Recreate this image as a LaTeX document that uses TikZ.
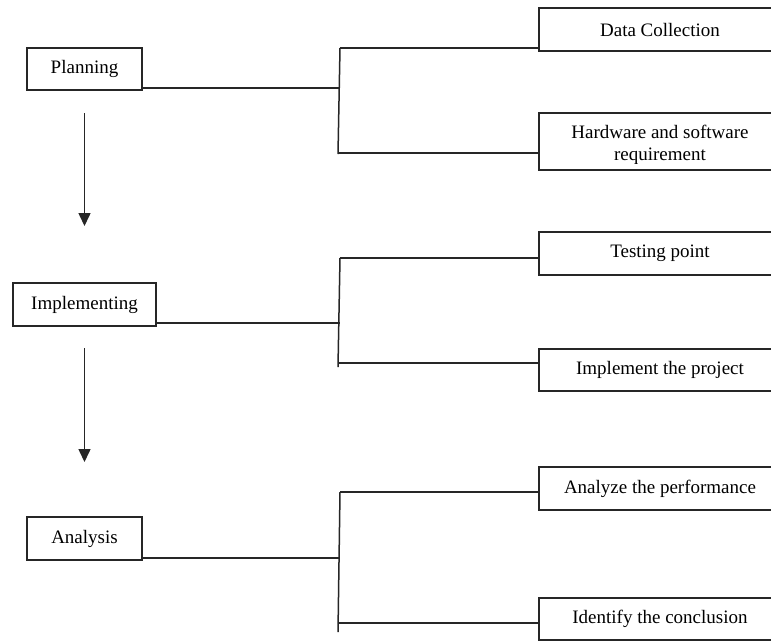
\documentclass[tikz,border=0pt]{standalone}
\usepackage{fontspec}
\setmainfont{Liberation Serif}
\usetikzlibrary{arrows.meta}
\tikzset{
  ln/.style={line width=1.5pt, draw=black!85},
  box/.style={ln, rectangle, inner sep=0pt, outer sep=0pt, align=center,
    font=\fontsize{19}{22}\selectfont},
  arr/.style={ln, -{Triangle[length=13pt,width=12pt]}}
}
\begin{document}
\begin{tikzpicture}[x=1pt,y=-1pt]
\useasboundingbox (0,0) rectangle (771,641);
\clip (0,0) rectangle (771,641);
\fill[white] (0,0) rectangle (771,641);
% left boxes
\node[box, minimum width=115pt, minimum height=42pt] (plan) at (84.5,69) {Planning};
\node[box, minimum width=143pt, minimum height=43pt] (impl) at (84.5,304.5) {Implementing};
\node[box, minimum width=115pt, minimum height=43pt] (anal) at (84.5,538.5) {Analysis};
% right boxes
\node[box, minimum width=242pt, minimum height=43pt] (dc) at (660,29.5) {Data Collection};
\node[box, minimum width=242pt, minimum height=57pt] (hw) at (660,141.5) {};
\begin{scope}
\clip (540,115) rectangle (780,163);
\node[font=\fontsize{19}{22}\selectfont, align=center, inner sep=0pt] (hwt) at (660,145) {Hardware and software\\requirement};
\end{scope}
\node[box, minimum width=242pt, minimum height=43pt] (tp) at (660,253.5) {Testing point};
\node[box, minimum width=242pt, minimum height=42pt] (ip) at (660,370) {Implement the project};
\node[box, minimum width=242pt, minimum height=43pt] (ap) at (660,488.5) {Analyze the performance};
\node[box, minimum width=242pt, minimum height=42pt] (ic) at (660,619) {Identify the conclusion};
% bus coordinates
\coordinate (b1t) at (340,48);  \coordinate (b1b) at (338,154);
\coordinate (b1l) at (339,153);
\coordinate (b2t) at (340,258); \coordinate (b2b) at (338,367);
\coordinate (b2l) at (339,363);
\coordinate (b3t) at (340,492); \coordinate (b3b) at (338,632);
\coordinate (b3l) at (339,623);
% planning tree
\draw[ln] ([yshift=2pt]plan.south east) -- ([yshift=2pt]plan.south east -| b1t);
\draw[ln] (b1t) -- (b1b);
\draw[ln] (b1t) -- (b1t -| dc.west);
\draw[ln] (b1l) -- (b1l -| hw.west);
% implementing tree
\draw[ln] ([yshift=3pt]impl.south east) -- ([yshift=3pt]impl.south east -| b2t);
\draw[ln] (b2t) -- (b2b);
\draw[ln] (b2t) -- (b2t -| tp.west);
\draw[ln] (b2l) -- (b2l -| ip.west);
% analysis tree
\draw[ln] ([yshift=2pt]anal.south east) -- ([yshift=2pt]anal.south east -| b3t);
\draw[ln] (b3t) -- (b3b);
\draw[ln] (b3t) -- (b3t -| ap.west);
\draw[ln] (b3l) -- (b3l -| ic.west);
% arrows
\draw[arr] ([yshift=-23pt]plan.south) -- ([yshift=57pt]impl.north);
\draw[arr] ([yshift=-22pt]impl.south) -- ([yshift=55pt]anal.north);
\end{tikzpicture}
\end{document}
